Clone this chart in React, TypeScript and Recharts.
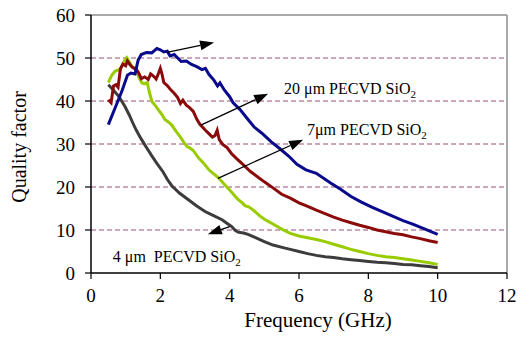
import React from 'react';
import { LineChart, Line, XAxis, YAxis, ReferenceLine, ReferenceDot } from 'recharts';

const FONT = 'Liberation Serif';

const xTicks = [0, 2, 4, 6, 8, 10, 12];
const yTicks = [0, 10, 20, 30, 40, 50, 60];
const gridValues = [10, 20, 30, 40, 50];

// 20 µm PECVD SiO2 (navy)
const blueX = [0.5, 0.7, 0.9, 1.05, 1.15, 1.27, 1.36, 1.45, 1.6, 1.75, 1.9, 2.0, 2.1, 2.2, 2.28, 2.4, 2.5, 2.6, 2.75, 2.9, 3.05, 3.2, 3.3, 3.4, 3.55, 3.65, 3.72, 3.85, 4.0, 4.1, 4.3, 4.5, 4.7, 4.93, 5.2, 5.45, 5.7, 5.94, 6.2, 6.5, 6.9, 7.2, 7.5, 7.8, 8.1, 8.4, 8.7, 9.0, 9.3, 9.6, 10.0];
const blueY = [34.5, 38.5, 42.5, 46, 46.5, 46.3, 49.5, 50.8, 51.3, 51.2, 52.2, 51.9, 51.4, 51.6, 50.5, 50.8, 50, 49.2, 49.3, 48.5, 48, 47.3, 47.6, 46.2, 44.8, 43.5, 44.2, 42.5, 41, 39.6, 38, 36, 34, 32.5, 30.5, 28.9, 27.2, 25.3, 24, 23.2, 21, 19.5, 17.8, 16.5, 15.3, 14.3, 13.2, 12.2, 11.3, 10.3, 9.0];

// dark red
const redX = [0.5, 0.58, 0.65, 0.72, 0.78, 0.85, 0.92, 1.0, 1.05, 1.12, 1.2, 1.3, 1.37, 1.45, 1.55, 1.65, 1.72, 1.8, 1.88, 1.95, 2.0, 2.05, 2.1, 2.2, 2.3, 2.4, 2.5, 2.58, 2.65, 2.75, 2.85, 2.95, 3.05, 3.14, 3.22, 3.3, 3.4, 3.5, 3.58, 3.64, 3.7, 3.8, 3.92, 4.05, 4.2, 4.35, 4.6, 4.8, 5.0, 5.25, 5.5, 5.75, 6.0, 6.25, 6.5, 6.75, 7.0, 7.25, 7.5, 7.75, 8.0, 8.25, 8.5, 8.75, 9.0, 9.25, 9.5, 9.75, 10.0];
const redY = [40.3, 39.6, 43.5, 43.8, 43.2, 47.5, 48.6, 48.2, 49.3, 48.5, 47.8, 47.4, 46.6, 45.2, 45.6, 45.0, 46.3, 45.8, 45.1, 46.5, 47.6, 46.2, 44.3, 43.6, 42.6, 41.8, 40.8, 39.4, 40.2, 39.0, 38.4, 37.6, 35.8, 34.6, 33.9, 33.2, 32.4, 31.6, 32.0, 33.2, 31.0, 29.9, 29.2, 27.8, 26.6, 25.5, 23.6, 22.4, 21.2, 19.8, 18.3, 17.4, 16.3, 15.5, 14.6, 13.8, 13.0, 12.3, 11.7, 11.1, 10.6, 10.0, 9.6, 9.2, 8.9, 8.4, 8.0, 7.5, 7.1];

// yellow-green
const greenX = [0.5, 0.6, 0.69, 0.84, 0.92, 0.98, 1.03, 1.1, 1.18, 1.25, 1.32, 1.4, 1.47, 1.55, 1.62, 1.7, 1.76, 1.85, 1.94, 2.05, 2.13, 2.25, 2.33, 2.45, 2.57, 2.67, 2.77, 2.87, 2.95, 3.1, 3.25, 3.4, 3.55, 3.67, 3.85, 4.0, 4.12, 4.24, 4.35, 4.45, 4.55, 4.7, 4.85, 5.0, 5.25, 5.5, 5.75, 6.0, 6.25, 6.5, 6.75, 7.0, 7.25, 7.5, 7.75, 8.0, 8.25, 8.5, 8.75, 9.0, 9.25, 9.5, 9.75, 10.0];
const greenY = [44.3, 46.0, 46.9, 47.4, 48.5, 49.6, 50.1, 49.2, 48.0, 47.6, 46.8, 45.2, 44.2, 44.0, 44.3, 41.5, 39.9, 39.0, 38.0, 36.8, 35.7, 35.0, 34.4, 33.0, 31.7, 30.5, 29.4, 29.0, 28.5, 26.8, 25.5, 24.0, 23.0, 22.2, 20.6, 19.3, 18.2, 17.1, 16.4, 15.6, 15.4, 14.5, 13.4, 12.5, 11.4, 10.2, 9.2, 8.6, 8.2, 7.8, 7.3, 6.7, 6.1, 5.5, 5.0, 4.5, 4.1, 3.8, 3.6, 3.3, 3.0, 2.7, 2.4, 2.0];

// 4 µm PECVD SiO2 (dark gray)
const grayX = [0.5, 0.65, 0.8, 0.98, 1.1, 1.2, 1.3, 1.41, 1.5, 1.6, 1.75, 1.9, 2.08, 2.2, 2.33, 2.55, 2.8, 3.05, 3.29, 3.55, 3.78, 3.95, 4.06, 4.15, 4.24, 4.4, 4.53, 4.73, 5.0, 5.25, 5.54, 5.75, 6.0, 6.25, 6.5, 6.75, 7.0, 7.25, 7.5, 7.75, 8.0, 8.25, 8.5, 8.75, 9.0, 9.25, 9.5, 9.75, 10.0];
const grayY = [43.8, 42.5, 41.1, 38.7, 36.8, 35.0, 33.3, 31.7, 30.5, 29.2, 27.3, 25.5, 23.5, 21.8, 20.3, 18.6, 17.1, 15.6, 14.3, 13.3, 12.4, 11.4, 10.8, 10.0, 9.5, 9.3, 9.0, 8.3, 7.3, 6.5, 5.9, 5.5, 5.0, 4.5, 4.1, 3.8, 3.6, 3.3, 3.1, 2.9, 2.7, 2.5, 2.4, 2.2, 2.0, 1.9, 1.7, 1.5, 1.2];

// annotation arrows: start and end in data units
const arrowStartX = [2.19, 3.17, 3.66, 4.0];
const arrowStartY = [51.3, 34.4, 22.0, 10.8];
const arrowEndX = [3.55, 5.11, 6.12, 3.37];
const arrowEndY = [53.6, 41.7, 31.0, 9.0];

// annotation labels
const labelText = ['20 \u03bcm PECVD SiO', '7\u03bcm PECVD SiO', '4 \u03bcm\u00a0 PECVD SiO'];
const labelX = [5.57, 6.23, 0.63];
const labelY = [41.7, 32.2, 2.67];

const toPoints = (xs: number[], ys: number[]) => xs.map((x, i) => ({ x, y: ys[i] }));

const blueData = toPoints(blueX, blueY);
const redData = toPoints(redX, redY);
const greenData = toPoints(greenX, greenY);
const grayData = toPoints(grayX, grayY);

const ArrowShape = (props: any) => {
  const { x1, y1, x2, y2 } = props;
  const ang = Math.atan2(y2 - y1, x2 - x1);
  const len = 14;
  const half = 5;
  const bx = x2 - len * Math.cos(ang);
  const by = y2 - len * Math.sin(ang);
  const px = -Math.sin(ang) * half;
  const py = Math.cos(ang) * half;
  return (
    <g>
      <line x1={x1} y1={y1} x2={bx} y2={by} stroke="#000" strokeWidth={1.3} />
      <polygon points={`${x2},${y2} ${bx + px},${by + py} ${bx - px},${by - py}`} fill="#000" />
    </g>
  );
};

const makeLabel = (text: string) => (props: any) => (
  <text x={props.cx} y={props.cy} fontFamily={FONT} style={{ fontFamily: FONT }} fontSize={16} fill="#000">
    <tspan>{text}</tspan>
    <tspan fontSize={11} dy={4}>2</tspan>
  </text>
);

const YLabel = (props: any) => {
  const vb = props.viewBox;
  const x = vb.x + 26;
  const y = vb.y + vb.height / 2 + 3;
  return (
    <text x={x} y={y} transform={`rotate(-90, ${x}, ${y})`} textAnchor="middle" fontFamily={FONT} style={{ fontFamily: FONT }} fontSize={20} fill="#000">
      Quality factor
    </text>
  );
};

const XLabel = (props: any) => {
  const vb = props.viewBox;
  const x = vb.x + vb.width / 2 + 19;
  const y = vb.y + 54;
  return (
    <text x={x} y={y} textAnchor="middle" fontFamily={FONT} style={{ fontFamily: FONT }} fontSize={21} fill="#000">
      Frequency (GHz)
    </text>
  );
};

export default function App() {
  return (
    <div style={{ position: 'absolute', left: 0, top: 0, width: 524, height: 338, background: '#fff' }}>
      <LineChart width={524} height={338} margin={{ top: 15, right: 17, bottom: 0, left: 0 }}>
        <XAxis
          type="number"
          dataKey="x"
          domain={[0, 12]}
          ticks={xTicks}
          allowDuplicatedCategory={false}
          height={65}
          axisLine={{ stroke: '#000', strokeWidth: 1.5 }}
          tickLine={{ stroke: '#000', strokeWidth: 1.2 }}
          tickSize={6}
          tickMargin={10}
          tick={{ fill: '#000', fontSize: 19, fontFamily: FONT }}
          label={<XLabel />}
        />
        <YAxis
          type="number"
          domain={[0, 60]}
          ticks={yTicks}
          width={91}
          axisLine={{ stroke: '#000', strokeWidth: 1.5 }}
          tickLine={{ stroke: '#000', strokeWidth: 1.2 }}
          tickSize={6}
          tickMargin={10}
          tick={{ fill: '#000', fontSize: 19, fontFamily: FONT }}
          label={<YLabel />}
        />
        {gridValues.map((v) => (
          <ReferenceLine key={'g' + v} y={v} stroke="#9b4f7a" strokeDasharray="5 3" strokeWidth={1} />
        ))}
        <ReferenceLine y={60} stroke="#8c8c8c" strokeWidth={1.5} />
        <ReferenceLine x={12} stroke="#8c8c8c" strokeWidth={1.5} />
        <Line data={grayData} dataKey="y" stroke="#3c3c3c" strokeWidth={3} dot={false} isAnimationActive={false} type="linear" />
        <Line data={greenData} dataKey="y" stroke="#99cc00" strokeWidth={3} dot={false} isAnimationActive={false} type="linear" />
        <Line data={redData} dataKey="y" stroke="#8b0a0a" strokeWidth={3} dot={false} isAnimationActive={false} type="linear" />
        <Line data={blueData} dataKey="y" stroke="#0a0a8c" strokeWidth={3} dot={false} isAnimationActive={false} type="linear" />
        {arrowStartX.map((sx, i) => (
          <ReferenceLine
            key={'a' + i}
            segment={[{ x: sx, y: arrowStartY[i] }, { x: arrowEndX[i], y: arrowEndY[i] }]}
            shape={ArrowShape}
            ifOverflow="visible"
          />
        ))}
        {labelText.map((t, i) => (
          <ReferenceDot key={'l' + i} x={labelX[i]} y={labelY[i]} r={0} shape={makeLabel(t)} ifOverflow="visible" />
        ))}
      </LineChart>
    </div>
  );
}
